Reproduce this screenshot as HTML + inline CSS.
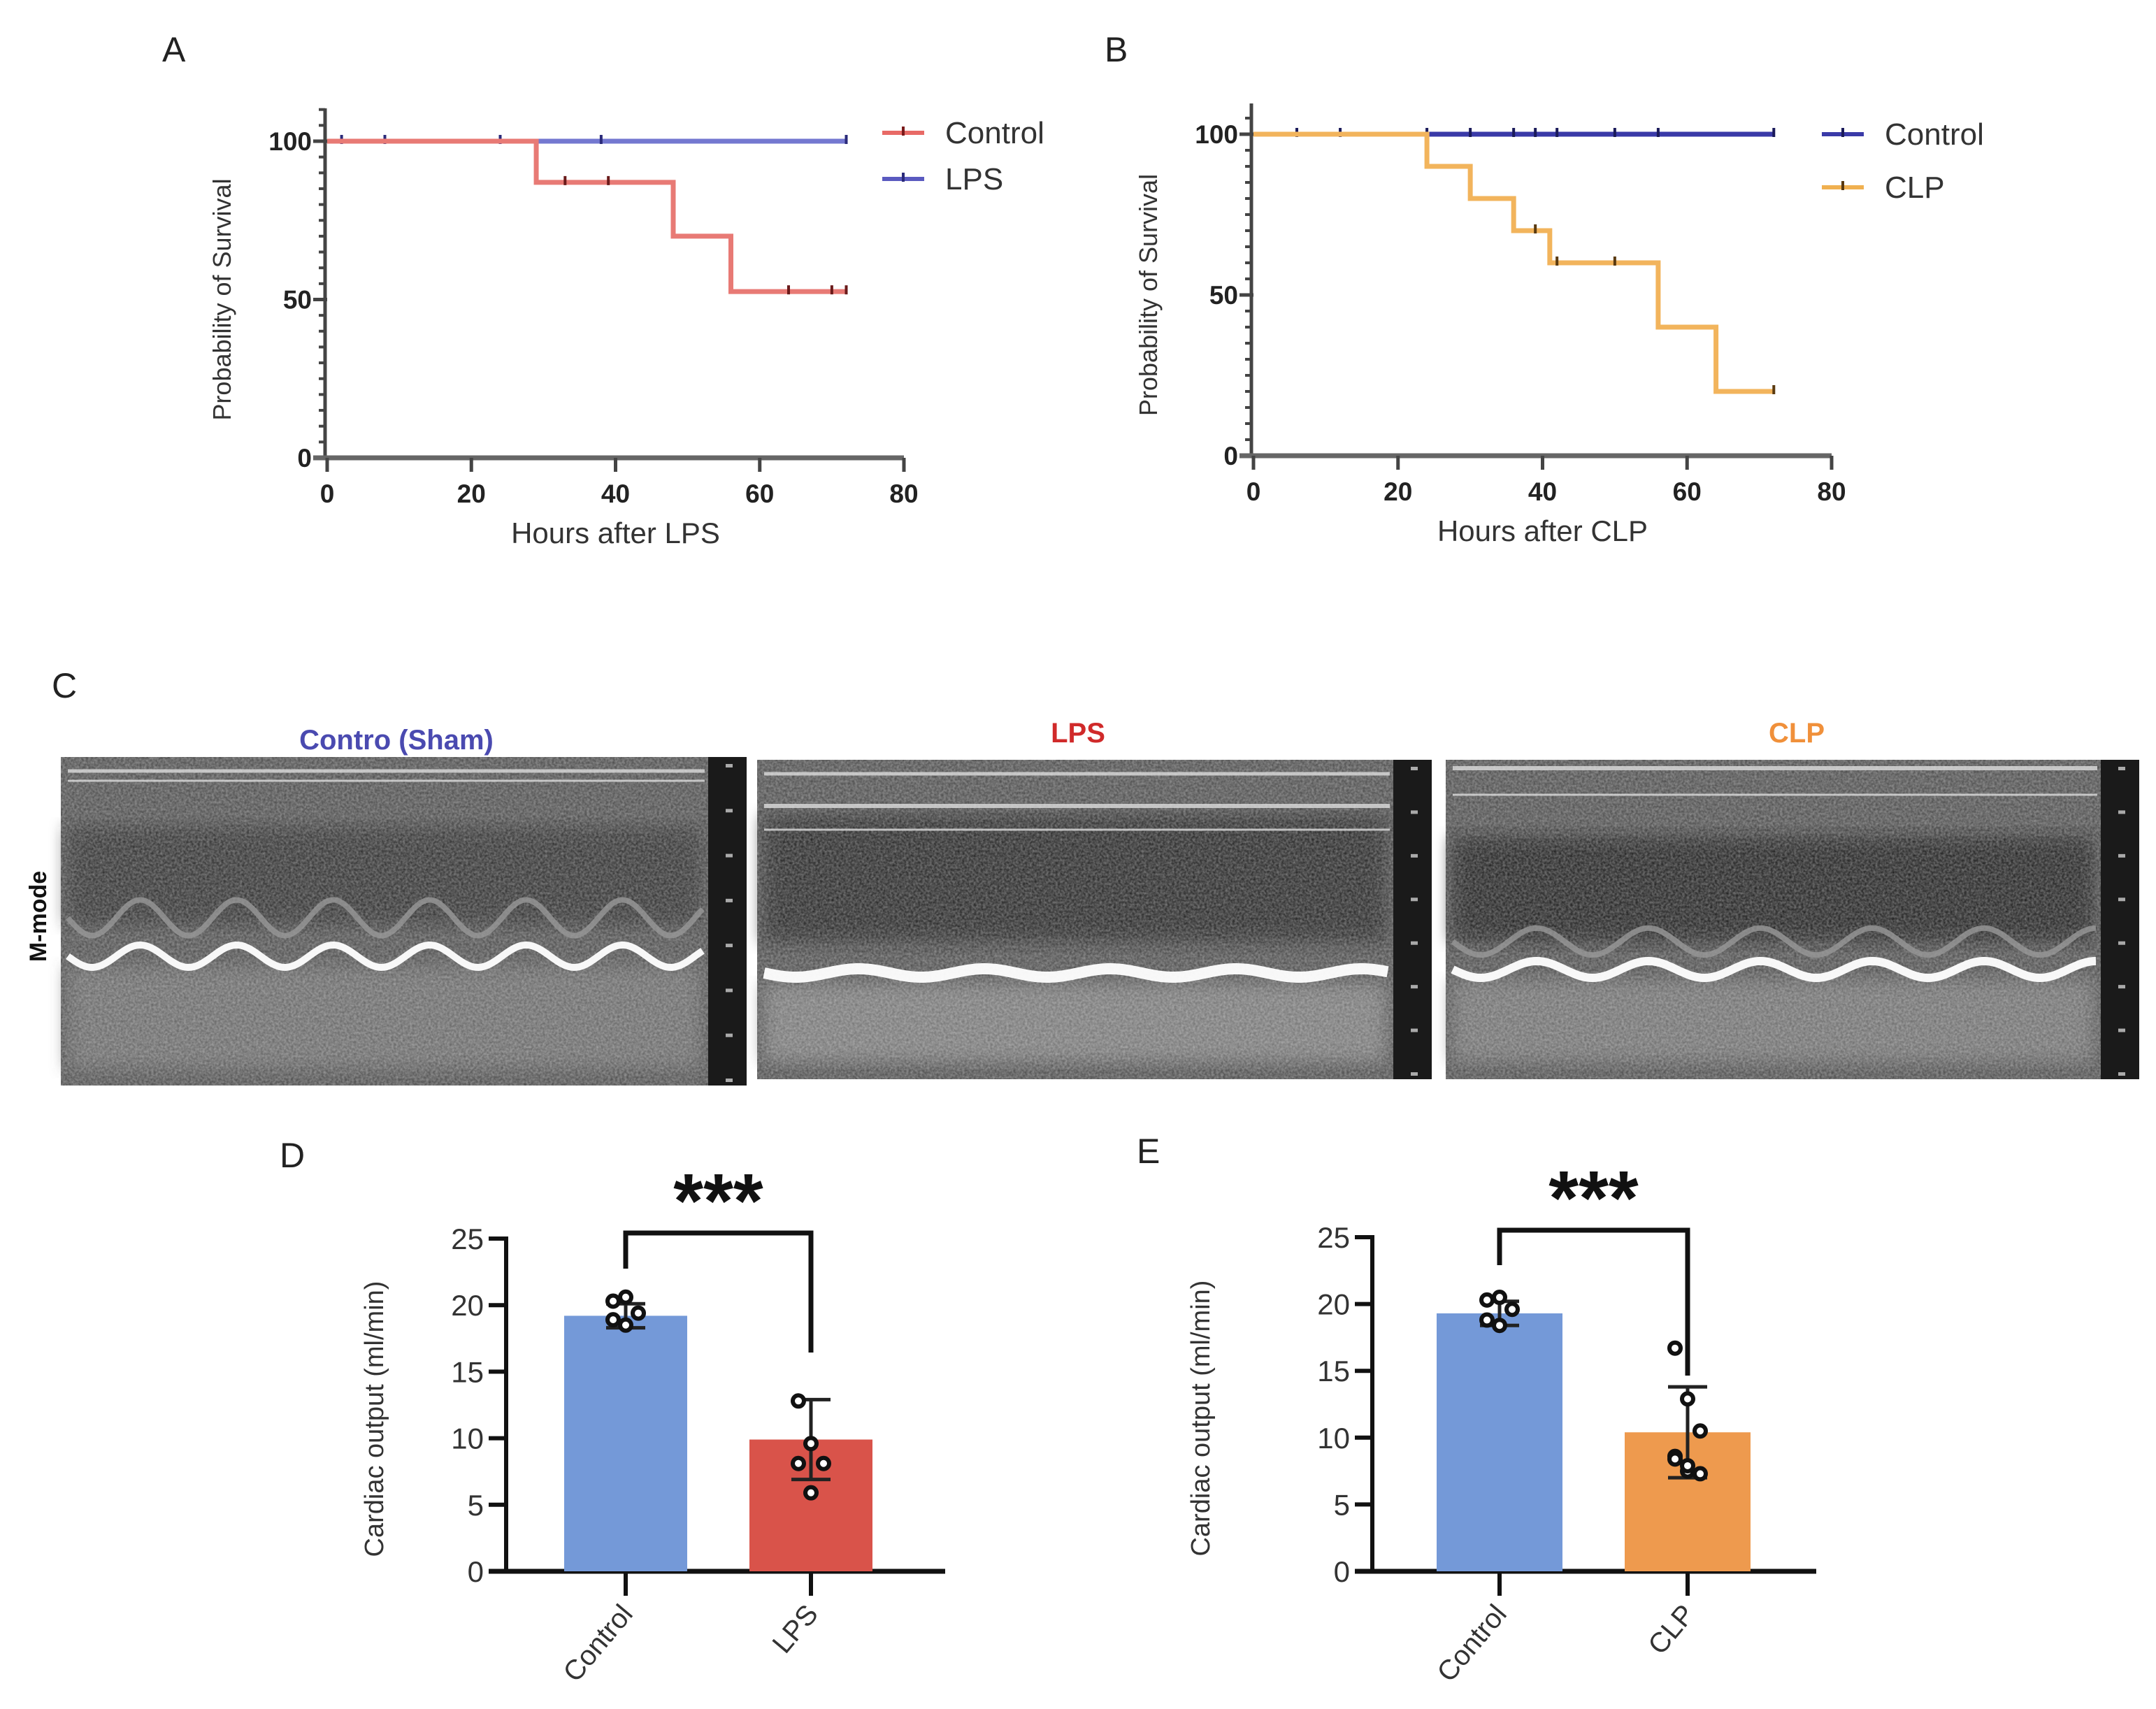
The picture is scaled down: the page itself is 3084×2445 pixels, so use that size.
<!DOCTYPE html>
<html><head><meta charset="utf-8"><style>
html,body{margin:0;padding:0;background:#fff;}
svg{display:block;font-family:"Liberation Sans",Arial,sans-serif;}
</style></head><body>
<svg id="fig" width="3084" height="2445" viewBox="0 0 3084 2445" xmlns="http://www.w3.org/2000/svg">
<defs>
<filter id="noise" x="0" y="0" width="100%" height="100%">
<feTurbulence type="fractalNoise" baseFrequency="0.3" numOctaves="2" seed="3"/>
<feColorMatrix type="matrix" values="0 0 0 0 1  0 0 0 0 1  0 0 0 0 1  0 0 0 0.45 0"/>
<feComposite in2="SourceGraphic" operator="in"/>
</filter>
<filter id="blur10"><feGaussianBlur stdDeviation="12"/></filter>
</defs>
<g id="root"></g>
</svg>
<script>
// ---------- Panel A data ----------
const aXTicks = [0,20,40,60,80];
const aYTicks = [0,50,100];
const aLpsSteps = [[0,100],[72,100]];
const aLpsCens = [2,8,24,38,72];
const aCtrlSteps = [[0,100],[29,100],[29,87],[48,87],[48,70],[56,70],[56,52.5],[72,52.5]];
const aCtrlCensX = [33,39,64,70,72];
const aCtrlCensY = [87,87,52.5,52.5,52.5];
// ---------- Panel B data ----------
const bXTicks = [0,20,40,60,80];
const bYTicks = [0,50,100];
const bCtrlSteps = [[0,100],[72,100]];
const bCtrlCens = [6,12,24,30,36,39,42,50,56,72];
const bClpSteps = [[0,100],[24,100],[24,90],[30,90],[30,80],[36,80],[36,70],[41,70],[41,60],[56,60],[56,40],[64,40],[64,20],[72,20]];
const bClpCensX = [39,42,50,72];
const bClpCensY = [70,60,60,20];
// ---------- Panel D data ----------
const dCats = ["Control","LPS"];
const dMeans = [19.2,9.9];
const dSD = [0.9,3.0];
const dPts0 = [20.3,20.6,19.4,18.9,18.5];
const dPts1 = [12.8,9.6,8.1,8.1,5.9];
const dYTicks = [0,5,10,15,20,25];
// ---------- Panel E data ----------
const eCats = ["Control","CLP"];
const eMeans = [19.3,10.4];
const eSD = [0.9,3.4];
const ePts0 = [20.3,20.5,19.6,18.8,18.4];
const ePts1 = [16.7,12.9,10.5,8.6,7.5,7.3,8.4,7.9];
const eYTicks = [0,5,10,15,20,25];

const NS="http://www.w3.org/2000/svg";
const root=document.getElementById('root');
function el(tag,attrs,parent,text){const e=document.createElementNS(NS,tag);for(const k in attrs)e.setAttribute(k,attrs[k]);if(text!==undefined)e.textContent=text;(parent||root).appendChild(e);return e;}

function lbl(t,x,y,name){const e=el('text',{x:x,y:y,'font-size':50,fill:'#222'},root,t);

}
lbl('A',232,88,'panel-a-label');lbl('B',1580,88,'panel-b-label');lbl('C',74,998,'panel-c-label');
lbl('D',400,1670,'panel-d-label');lbl('E',1626,1664,'panel-e-label');

// ---------- survival chart ----------
function survival(cfg){
  const g=el('g',{});
  
  
  const sx=v=>cfg.x0+(v/80)*(cfg.x1-cfg.x0);
  const sy=v=>cfg.y0+(v/100)*(cfg.y100-cfg.y0);
  const ya=el('line',{x1:cfg.x0-3,y1:cfg.yTop,x2:cfg.x0-3,y2:cfg.y0,stroke:'#444','stroke-width':5},g);
  
  
  for(let v=0;v<=110;v+=5){const y=sy(v);if(y<cfg.yTop)continue;el('line',{x1:cfg.x0-12,y1:y,x2:cfg.x0-3,y2:y,stroke:'#444','stroke-width':4},g);}
  cfg.yTicks.forEach(v=>{const y=sy(v);el('line',{x1:cfg.x0-20,y1:y,x2:cfg.x0,y2:y,stroke:'#444','stroke-width':5},g);
    const t=el('text',{x:cfg.x0-22,y:y+13,'text-anchor':'end','font-size':37,'font-weight':'bold',fill:'#222'},g,v);
    
    });
  const xa=el('line',{x1:cfg.x0-20,y1:cfg.y0,x2:cfg.x1,y2:cfg.y0,stroke:'#666','stroke-width':7},g);
  
  
  cfg.xTicks.forEach(v=>{const x=sx(v);el('line',{x1:x,y1:cfg.y0,x2:x,y2:cfg.y0+20,stroke:'#444','stroke-width':5},g);
    const t=el('text',{x:x,y:cfg.y0+64,'text-anchor':'middle','font-size':37,'font-weight':'bold',fill:'#222'},g,v);
    
    });
  const yt=el('text',{x:0,y:0,'text-anchor':'middle','font-size':36,fill:'#333',transform:`translate(${cfg.ylx},${(cfg.y0+cfg.y100)/2}) rotate(-90)`},g,'Probability of Survival');
  
  
  const xt=el('text',{x:(cfg.x0+cfg.x1)/2,y:cfg.y0+122,'text-anchor':'middle','font-size':42,fill:'#333'},g,cfg.xTitle);
  
  
  cfg.series.forEach((s,i)=>{
    const d=s.steps.map((p,k)=>(k?'L':'M')+sx(p[0])+','+sy(p[1])).join(' ');
    const p=el('path',{d:d,fill:'none',stroke:s.color,'stroke-width':7},g);
    
    
    s.cx.forEach((c,k)=>{const m=el('line',{x1:sx(c),y1:sy(s.cy[k])-9,x2:sx(c),y2:sy(s.cy[k])+4,stroke:s.tick,'stroke-width':4},g);
      
      });
  });
  cfg.legend.forEach((L,i)=>{
    const ly=cfg.legY[i];
    const lg=el('g',{},g);
    
    
    el('line',{x1:cfg.legX,y1:ly,x2:cfg.legX+60,y2:ly,stroke:L.color,'stroke-width':6},lg);
    el('line',{x1:cfg.legX+30,y1:ly-9,x2:cfg.legX+30,y2:ly+4,stroke:L.tick,'stroke-width':4},lg);
    el('text',{x:cfg.legX+90,y:ly+15,'font-size':44,fill:'#333'},lg,L.label);
  });
}
survival({name:'survival-chart-a',x0:468,x1:1293,y0:655,y100:202,yTop:155,ylx:330,xTitle:'Hours after LPS',
  xTicks:aXTicks,yTicks:aYTicks,legX:1262,legY:[190,256],
  series:[{name:'lps',steps:aLpsSteps,cx:aLpsCens,cy:aLpsCens.map(()=>100),color:'#7478d0',tick:'#2a2a7a'},
          {name:'control',steps:aCtrlSteps,cx:aCtrlCensX,cy:aCtrlCensY,color:'#e87a75',tick:'#6a1a1a'}],
  legend:[{label:'Control',color:'#e86a66',tick:'#7a1a1a'},{label:'LPS',color:'#5a5ac0',tick:'#2a2a7a'}]});
survival({name:'survival-chart-b',x0:1793,x1:2620,y0:652,y100:192,yTop:148,ylx:1655,xTitle:'Hours after CLP',
  xTicks:bXTicks,yTicks:bYTicks,legX:2606,legY:[192,268],
  series:[{name:'control',steps:bCtrlSteps,cx:bCtrlCens,cy:bCtrlCens.map(()=>100),color:'#3a3aa8',tick:'#1a1a5a'},
          {name:'clp',steps:bClpSteps,cx:bClpCensX,cy:bClpCensY,color:'#f2b45c',tick:'#5a3a10'}],
  legend:[{label:'Control',color:'#3a3aa8',tick:'#1a1a5a'},{label:'CLP',color:'#f0b050',tick:'#5a3a10'}]});

// ---------- Panel C ultrasound images ----------
function titleC(t,x,y,c,n){const e=el('text',{x:x,y:y,'text-anchor':'middle','font-size':40,'font-weight':'bold',fill:c},root,t);

}
titleC('Contro (Sham)',567,1072,'#4a4ab0','sham-image-title');
titleC('LPS',1542,1062,'#d02a2a','lps-image-title');
titleC('CLP',2570,1062,'#f0903a','clp-image-title');
const mm=el('text',{x:0,y:0,'text-anchor':'middle','font-size':34,'font-weight':'bold',fill:'#111',transform:'translate(66,1311) rotate(-90)'},root,'M-mode');


function wave(x0,x1,yc,amp,per,ph){let d='';for(let x=x0;x<=x1;x+=4){const y=yc+amp*Math.sin((x-x0)/per*2*Math.PI+ph);d+=(d?'L':'M')+x+','+y.toFixed(1);}return d;}
function echo(cfg){
  const g=el('g',{});
  
  
  const {x,y,w,h}=cfg;
  el('rect',{x:x,y:y,width:w,height:h,fill:'#2a2a2a'},g);
  el('rect',{x:x,y:y,width:w-55,height:h,fill:'#444'},g);
  el('rect',{x:x+10,y:y+cfg.darkTop,width:w-75,height:cfg.darkBot-cfg.darkTop,fill:cfg.darkCol,filter:'url(#blur10)'},g);
  el('rect',{x:x+10,y:y+cfg.lineY+15,width:w-75,height:h-cfg.lineY-40,fill:cfg.lowCol,filter:'url(#blur10)'},g);
  el('rect',{x:x,y:y,width:w-55,height:h,fill:'#000',filter:'url(#noise)'},g);
  cfg.topLines.forEach(t=>el('line',{x1:x+10,y1:y+t[0],x2:x+w-60,y2:y+t[0],stroke:'#ddd','stroke-width':t[1],opacity:0.8},g));
  el('path',{d:wave(x+10,x+w-60,y+cfg.lineY,cfg.amp,cfg.per,0),fill:'none',stroke:'#fff','stroke-width':cfg.lw,opacity:0.95},g);
  if(cfg.wave2)el('path',{d:wave(x+10,x+w-60,y+cfg.lineY-cfg.wave2,cfg.amp*1.6,cfg.per,0),fill:'none',stroke:'#999','stroke-width':8,opacity:0.8},g);
  el('rect',{x:x+w-55,y:y,width:55,height:h,fill:'#1a1a1a'},g);
  for(let i=0;i<8;i++)el('rect',{x:x+w-30,y:y+10+i*(h-20)/7,width:10,height:5,fill:'#aaa'},g);
}
echo({name:'sham-m-mode-image',x:87,y:1083,w:981,h:470,darkTop:100,darkBot:240,darkCol:'#262626',lowCol:'#5e5e5e',topLines:[[20,5],[34,3]],lineY:285,amp:16,per:138,lw:10,wave2:55});
echo({name:'lps-m-mode-image',x:1083,y:1087,w:965,h:457,darkTop:80,darkBot:260,darkCol:'#1e1e1e',lowCol:'#6e6e6e',topLines:[[20,5],[66,6],[100,3]],lineY:305,amp:6,per:180,lw:16});
echo({name:'clp-m-mode-image',x:2068,y:1087,w:992,h:457,darkTop:110,darkBot:260,darkCol:'#181818',lowCol:'#666',topLines:[[12,6],[50,3]],lineY:300,amp:12,per:160,lw:12,wave2:40});

// ---------- bar charts ----------
function bar(cfg){
  const g=el('g',{});
  
  
  const sy=v=>cfg.y0+(v/25)*(cfg.y25-cfg.y0);
  const ya=el('line',{x1:cfg.ax,y1:cfg.y25-3,x2:cfg.ax,y2:cfg.y0,stroke:'#111','stroke-width':6},g);
  
  
  const xa=el('line',{x1:cfg.ax-25,y1:cfg.y0,x2:cfg.axEnd,y2:cfg.y0,stroke:'#111','stroke-width':7},g);
  
  
  cfg.yTicks.forEach(v=>{const y=sy(v);el('line',{x1:cfg.ax-25,y1:y,x2:cfg.ax,y2:y,stroke:'#111','stroke-width':6},g);
    const t=el('text',{x:cfg.ax-32,y:y+15,'text-anchor':'end','font-size':42,fill:'#333'},g,v);
    
    });
  const yt=el('text',{x:0,y:0,'text-anchor':'middle','font-size':38,fill:'#333',transform:`translate(${cfg.ylx},${(cfg.y0+cfg.y25)/2+20}) rotate(-90)`},g,'Cardiac output (ml/min)');
  
  
  const pts=[cfg.pts0,cfg.pts1];
  cfg.cats.forEach((c,i)=>{
    const cx=cfg.cx[i];
    const b=el('rect',{x:cx-cfg.bw/2,y:sy(cfg.means[i]),width:cfg.bw,height:sy(0)-sy(cfg.means[i]),fill:cfg.colors[i]},g);
    
    
    const hi=sy(cfg.means[i]+cfg.sd[i]),lo=sy(cfg.means[i]-cfg.sd[i]);
    const eb=el('path',{d:`M${cx},${hi}L${cx},${lo}M${cx-28},${hi}L${cx+28},${hi}M${cx-28},${lo}L${cx+28},${lo}`,stroke:'#222','stroke-width':5,fill:'none'},g);
    
    
    pts[i].forEach((v,k)=>{const off=(k%3-1)*18;
      const p=el('circle',{cx:cx+off,cy:sy(v),r:8,fill:'#fff',stroke:'#111','stroke-width':6},g);
      
      });
    el('line',{x1:cx,y1:cfg.y0,x2:cx,y2:cfg.y0+35,stroke:'#111','stroke-width':6},g);
    const t=el('text',{x:0,y:0,'text-anchor':'end','font-size':40,fill:'#333',transform:`translate(${cx+12},${cfg.y0+62}) rotate(-50)`},g,c);
    
    
  });
  const br=el('path',{d:`M${cfg.cx[0]},${cfg.brL}L${cfg.cx[0]},${cfg.brTop}L${cfg.cx[1]},${cfg.brTop}L${cfg.cx[1]},${cfg.brR}`,stroke:'#111','stroke-width':7,fill:'none'},g);
  
  
  const st=el('text',{x:(cfg.cx[0]+cfg.cx[1])/2,y:cfg.brTop-8,'text-anchor':'middle','font-size':110,'font-weight':'bold',fill:'#111'},g,'***');
  
  
}
bar({name:'cardiac-output-chart-d',ax:724,axEnd:1352,y0:2248,y25:1772,ylx:548,yTicks:dYTicks,cats:dCats,means:dMeans,sd:dSD,pts0:dPts0,pts1:dPts1,
  cx:[895,1160],bw:176,colors:['#7499d8','#d9534a'],brTop:1764,brL:1815,brR:1935});
bar({name:'cardiac-output-chart-e',ax:1963,axEnd:2598,y0:2248,y25:1770,ylx:1730,yTicks:eYTicks,cats:eCats,means:eMeans,sd:eSD,pts0:ePts0,pts1:ePts1,
  cx:[2145,2414],bw:180,colors:['#7499d8','#ee9a4e'],brTop:1760,brL:1810,brR:1968});
</script>
</body></html>
